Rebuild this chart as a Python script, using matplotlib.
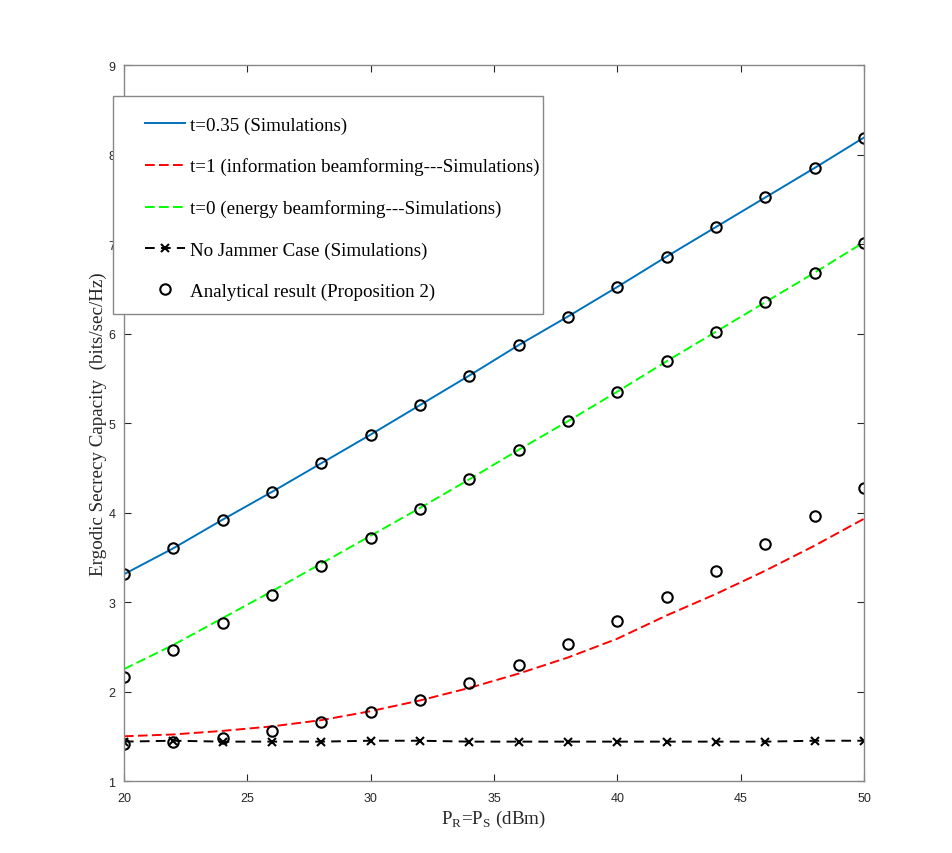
import matplotlib
matplotlib.use("Agg")
import matplotlib.pyplot as plt
from matplotlib.patches import Rectangle
import numpy as np

# transmit power P_R = P_S (dBm)
power = [20, 22, 24, 26, 28, 30, 32, 34, 36, 38, 40, 42, 44, 46, 48, 50]

# simulations
sim_t035 = [3.31, 3.60, 3.92, 4.23, 4.55, 4.87, 5.20, 5.53, 5.87, 6.19, 6.52, 6.86, 7.19, 7.52, 7.85, 8.19]
sim_t1 = [1.50, 1.52, 1.56, 1.61, 1.68, 1.78, 1.90, 2.04, 2.20, 2.38, 2.59, 2.85, 3.09, 3.35, 3.63, 3.93]
sim_t0 = [2.25, 2.52, 2.82, 3.12, 3.43, 3.74, 4.05, 4.37, 4.70, 5.02, 5.35, 5.69, 6.02, 6.35, 6.68, 7.02]
sim_nojam = [1.44, 1.45, 1.44, 1.44, 1.44, 1.45, 1.45, 1.44, 1.44, 1.44, 1.44, 1.44, 1.44, 1.44, 1.45, 1.45]

# analytical (Proposition 2)
ana_t035 = [3.31, 3.60, 3.92, 4.23, 4.55, 4.87, 5.20, 5.53, 5.87, 6.19, 6.52, 6.86, 7.19, 7.52, 7.85, 8.19]
ana_t1 = [1.41, 1.44, 1.48, 1.56, 1.66, 1.77, 1.91, 2.09, 2.30, 2.53, 2.79, 3.06, 3.35, 3.65, 3.96, 4.27]
ana_t0 = [2.16, 2.46, 2.77, 3.08, 3.40, 3.72, 4.04, 4.37, 4.70, 5.02, 5.35, 5.69, 6.02, 6.35, 6.68, 7.01]

plt.rcParams['mathtext.fontset'] = 'custom'
plt.rcParams['mathtext.rm'] = 'Liberation Serif'

fig = plt.figure(figsize=(9.53, 8.54), dpi=100)
ax = fig.add_axes([0.130, 0.0843, 0.7766, 0.8384])

lw = 1.4
ax.plot(power, sim_t035, '-', color='#0072BD', lw=lw, label='t=0.35 (Simulations)')
ax.plot(power, sim_t1, '--', color='#FF0000', lw=lw, dashes=(5, 2.2),
        label='t=1 (information beamforming---Simulations)')
ax.plot(power, sim_t0, '--', color='#00FF00', lw=lw, dashes=(5, 2.2),
        label='t=0 (energy beamforming---Simulations)')
ax.plot(power, sim_nojam, '--', color='black', lw=lw, marker='x', ms=6, mew=1.5,
        dashes=(5, 3.2), label='No Jammer Case (Simulations)')
mk = dict(ls='none', marker='o', ms=7.5, mfc='none', mec='black', mew=1.5)
ax.plot(power, ana_t035, label='Analytical result (Proposition 2)', **mk)
ax.plot(power, ana_t1, **mk)
ax.plot(power, ana_t0, **mk)

ax.set_xlim(20, 50)
ax.set_ylim(1, 9)
ax.set_xticks(np.arange(20, 51, 5))
ax.set_yticks(np.arange(1, 10, 1))
ax.tick_params(direction='in', top=True, right=True, length=5, width=0.8,
               colors='#262626', labelsize=9)
ax.tick_params(axis='x', pad=8)
ax.tick_params(axis='y', pad=6)
for sp in ax.spines.values():
    sp.set_color('#888888')
    sp.set_linewidth(1.0)
for lab in ax.get_xticklabels() + ax.get_yticklabels():
    lab.set_family('Liberation Sans')

ax.set_xlabel(r'P$_\mathregular{R}$=P$_\mathregular{S}$ (dBm)', family='Liberation Serif',
              fontsize=13.7, color='#262626', labelpad=3)
ax.set_ylabel('Ergodic Secrecy Capacity  (bits/sec/Hz)', family='Liberation Serif',
              fontsize=13.7, color='#262626', labelpad=1)

# MATLAB-style legend box: wide left margin, tight right margin
box = Rectangle((-0.0149, 0.6522), 0.5811, 0.3045, transform=ax.transAxes,
                facecolor='white', edgecolor='#888888', lw=1.0, zorder=4, clip_on=False)
ax.add_patch(box)
leg = ax.legend(loc='upper left', bbox_to_anchor=(0.0068, 0.9511),
                prop={'family': 'Liberation Serif', 'size': 13.7},
                frameon=False, labelspacing=1.26,
                handlelength=2.1, handletextpad=0.25, borderpad=0.85, borderaxespad=0)
leg.set_zorder(5)

fig.savefig('out.png', dpi=100)
